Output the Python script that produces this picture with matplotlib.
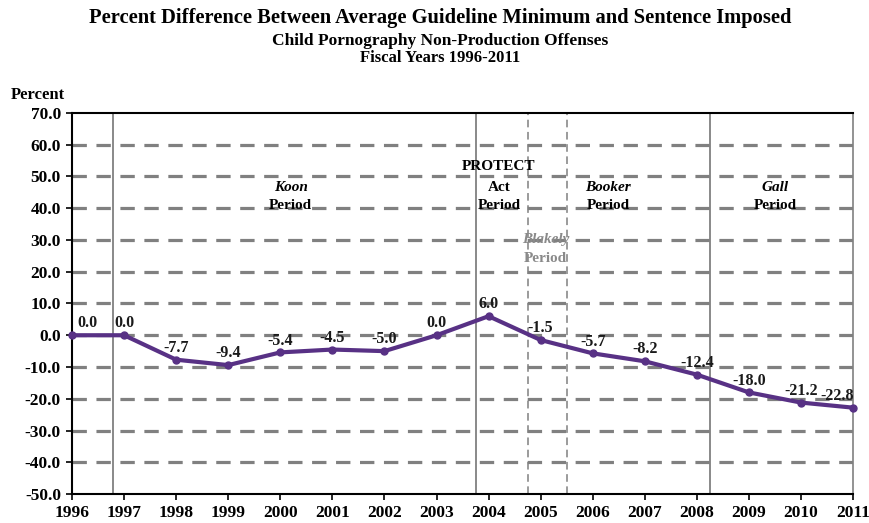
import matplotlib

matplotlib.use("Agg")
import matplotlib.pyplot as plt

# ---------------------------------------------------------------------------
# Data
# ---------------------------------------------------------------------------
years = list(range(1996, 2012))
percent_diff = [0.0, 0.0, -7.7, -9.4, -5.4, -4.5, -5.0, 0.0,
                6.0, -1.5, -5.7, -8.2, -12.4, -18.0, -21.2, -22.8]

# period boundaries (fractional fiscal year)
solid_bounds = [1996.79, 2003.76, 2008.25]
dashed_bounds = [2004.76, 2005.5]

y_ticks = [-50, -40, -30, -20, -10, 0, 10, 20, 30, 40, 50, 60, 70]

plt.rcParams["font.family"] = ["Liberation Serif", "DejaVu Serif"]
plt.rcParams["font.weight"] = "bold"

fig = plt.figure(figsize=(8.7, 5.23), dpi=100)
ax = fig.add_axes([0.0828, 0.0554, 0.8977, 0.7286])

# grid lines
for y in y_ticks[1:-1]:
    ax.axhline(y, color="#808080", lw=2.3, ls=(0, (4.5, 3)), zorder=1)

for x in solid_bounds:
    ax.axvline(x, color="#808080", lw=1.3, zorder=2)
for x in dashed_bounds:
    ax.axvline(x, color="#808080", lw=1.1, ls=(0, (5, 3)), zorder=2)

# the line
ax.plot(years, percent_diff, color="#583185", lw=3, marker="o", ms=5,
        zorder=5, clip_on=False)

for i, (yr, v) in enumerate(zip(years, percent_diff)):
    dx = 0
    if i == 0:
        dx = 0.3
    if i == len(years) - 1:
        dx = -0.3
    ax.text(yr + dx, v + 1.2, f"{v:.1f}", ha="center", va="bottom",
            fontsize=11.5, fontweight="bold", color="#1a1a1a", zorder=6)

# period labels
fs = 11
ax.text(2000.2, 45.5, "Koon", style="italic", ha="center", fontsize=fs)
ax.text(2000.2, 39.8, "Period", ha="center", fontsize=fs)
ax.text(2004.2, 52, "PROTECT", ha="center", fontsize=fs)
ax.text(2004.2, 45.5, "Act", ha="center", fontsize=fs)
ax.text(2004.2, 39.8, "Period", ha="center", fontsize=fs)
ax.text(2005.1, 29.2, "Blakely", style="italic", ha="center", fontsize=fs,
        color="#8a8a8a")
ax.text(2005.1, 23.2, "Period", ha="center", fontsize=fs, color="#8a8a8a")
ax.text(2006.3, 45.5, "Booker", style="italic", ha="center", fontsize=fs)
ax.text(2006.3, 39.8, "Period", ha="center", fontsize=fs)
ax.text(2009.5, 45.5, "Gall", style="italic", ha="center", fontsize=fs)
ax.text(2009.5, 39.8, "Period", ha="center", fontsize=fs)

ax.set_xlim(1996, 2011)
ax.set_ylim(-50, 70)
ax.set_xticks(years)
ax.set_xticklabels([str(y) for y in years], fontsize=12.5, fontweight="bold")
ax.set_yticks(y_ticks)
ax.set_yticklabels([f"{y:.1f}" for y in y_ticks], fontsize=12.5,
                   fontweight="bold")
ax.tick_params(axis="both", length=4, width=1.2, pad=4)

for side in ["left", "bottom", "top"]:
    ax.spines[side].set_color("black")
    ax.spines[side].set_linewidth(1.5)
ax.spines["right"].set_color("#808080")
ax.spines["right"].set_linewidth(1.2)

fig.text(0.012, 0.81, "Percent", fontsize=12, fontweight="bold", ha="left")

fig.text(0.506, 0.965, "Percent Difference Between Average Guideline Minimum "
         "and Sentence Imposed", ha="center", va="center", fontsize=14.8,
         fontweight="bold")
fig.text(0.506, 0.922, "Child Pornography Non-Production Offenses",
         ha="center", va="center", fontsize=12.5, fontweight="bold")
fig.text(0.506, 0.889, "Fiscal Years 1996-2011", ha="center", va="center",
         fontsize=12, fontweight="bold")

fig.savefig("out.png", dpi=100)
